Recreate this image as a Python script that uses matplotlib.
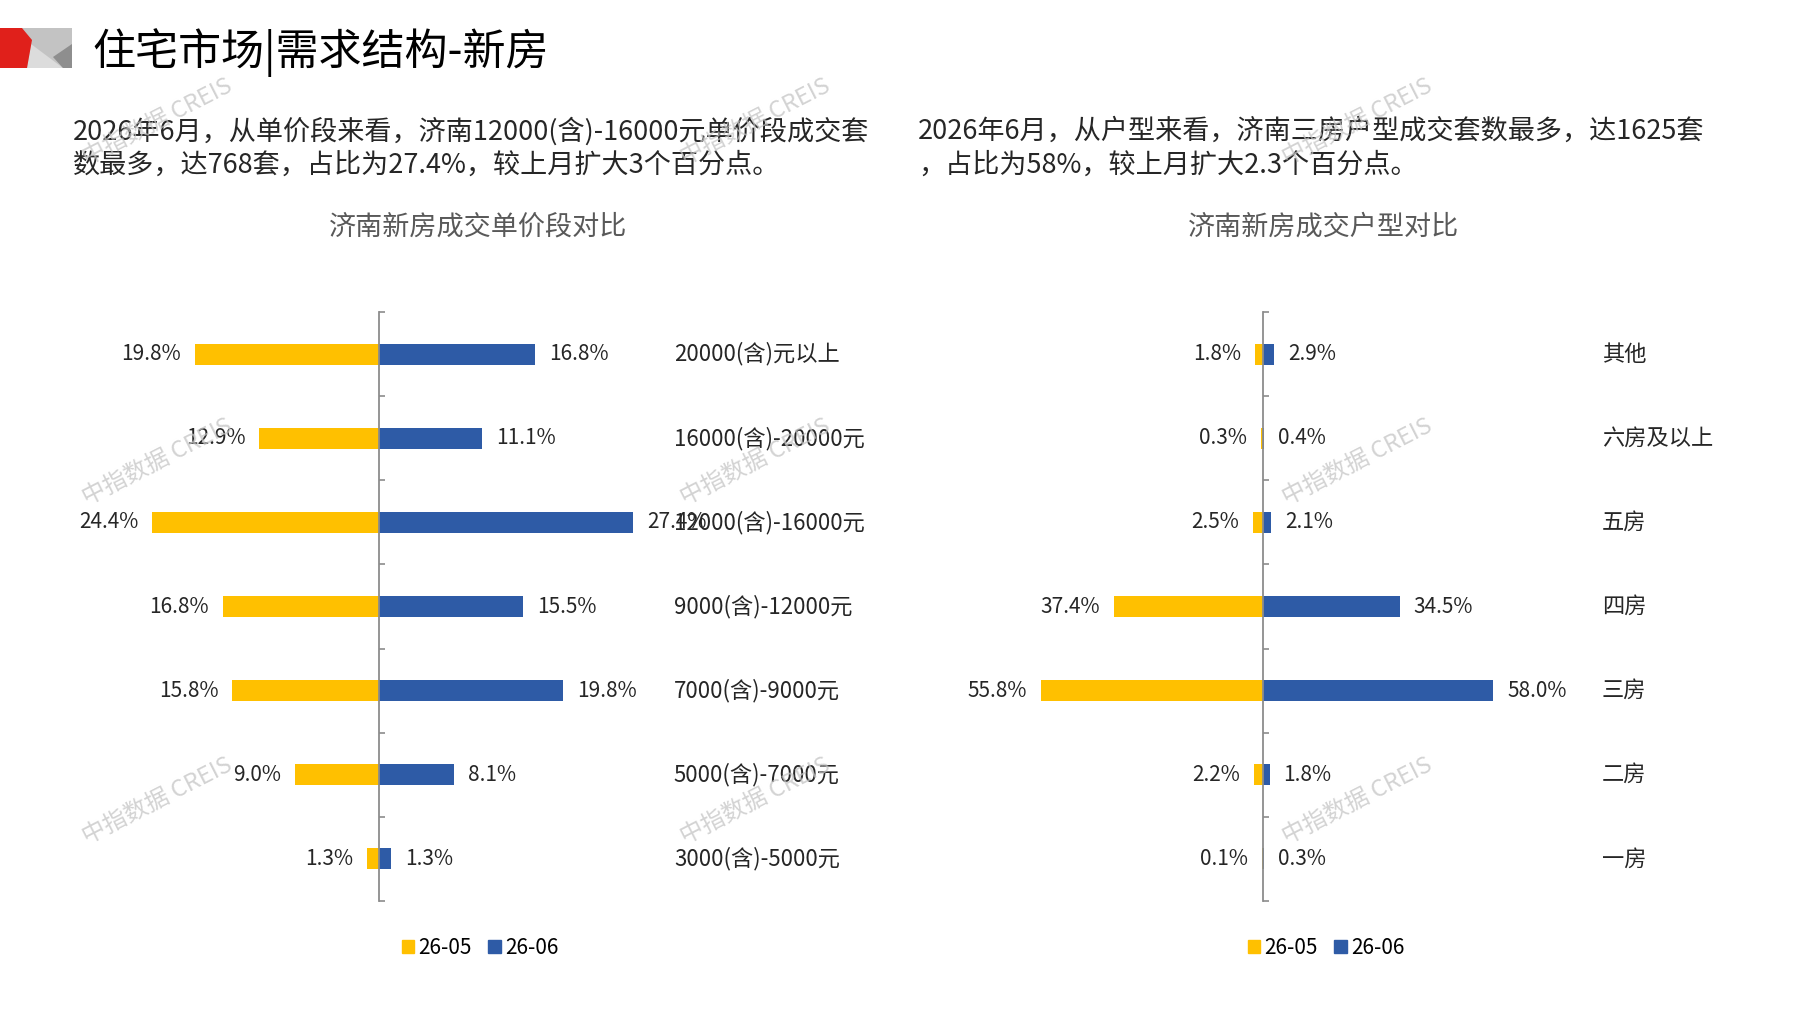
import matplotlib
matplotlib.use("Agg")
import matplotlib.pyplot as plt
from matplotlib.patches import Polygon, Patch

plt.rcParams['font.family'] = ['Noto Sans CJK SC', 'DejaVu Sans']

# ---- data ----
price_cats = ['20000(含)元以上', '16000(含)-20000元', '12000(含)-16000元', '9000(含)-12000元',
              '7000(含)-9000元', '5000(含)-7000元', '3000(含)-5000元']
price_may = [19.8, 12.9, 24.4, 16.8, 15.8, 9.0, 1.3]
price_jun = [16.8, 11.1, 27.4, 15.5, 19.8, 8.1, 1.3]

room_cats = ['其他', '六房及以上', '五房', '四房', '三房', '二房', '一房']
room_may = [1.8, 0.3, 2.5, 37.4, 55.8, 2.2, 0.1]
room_jun = [2.9, 0.4, 2.1, 34.5, 58.0, 1.8, 0.3]

series_names = ['26-05', '26-06']

title = '住宅市场|需求结构-新房'
para_left = ['2026年6月，从单价段来看，济南12000(含)-16000元单价段成交套',
             '数最多，达768套，占比为27.4%，较上月扩大3个百分点。']
para_right = ['2026年6月，从户型来看，济南三房户型成交套数最多，达1625套',
              '，占比为58%，较上月扩大2.3个百分点。']
chart_titles = ['济南新房成交单价段对比', '济南新房成交户型对比']

YELLOW = '#FFC000'
BLUE = '#2E5BA6'
TXT = '#262626'

W, H = 1797, 1010
fig = plt.figure(figsize=(W / 100, H / 100), dpi=100)


def fx(x):
    return x / W


def fy(y):
    return 1 - y / H


# header logo
logo = [
    ([(22, 28), (72, 28), (72, 68), (22, 68)], '#C3C3C3'),
    ([(31, 44), (63, 68), (27, 68)], '#DCDCDC'),
    ([(53, 57), (72, 44), (72, 68), (63, 68)], '#8E8E8E'),
    ([(0, 28), (22, 28), (32, 40), (27, 68), (0, 68)], '#E0201B'),
]
for pts, col in logo:
    fig.add_artist(Polygon([(fx(a), fy(b)) for a, b in pts], closed=True,
                           transform=fig.transFigure, color=col, lw=0))

fig.text(fx(92), fy(53), title, fontsize=31, color='black', va='center', ha='left')

for i, line in enumerate(para_left):
    fig.text(fx(73), fy(131 + i * 34), line, fontsize=19.5, color=TXT, va='center')
for i, line in enumerate(para_right):
    fig.text(fx(918), fy(131 + i * 34), line, fontsize=19.5, color=TXT, va='center')

TOP, BOTTOM = 312, 901


def pyramid(left, width, cats, may, jun, lim, cat_x, title_txt, center_x):
    ax = fig.add_axes([fx(left), fy(BOTTOM), fx(width), (BOTTOM - TOP) / H])
    y = list(range(len(cats)))
    ax.barh(y, [-v for v in may], height=0.25, color=YELLOW, zorder=2)
    ax.barh(y, jun, height=0.25, color=BLUE, zorder=2)
    ax.set_xlim(-lim, lim)
    ax.set_ylim(len(cats) - 0.5, -0.5)
    for s in ['top', 'right', 'bottom']:
        ax.spines[s].set_visible(False)
    ax.spines['left'].set_position(('data', 0))
    ax.spines['left'].set_color('#8C8C8C')
    ax.spines['left'].set_linewidth(1.3)
    ax.set_xticks([])
    ax.set_yticks([i - 0.5 for i in range(len(cats) + 1)])
    ax.tick_params(axis='y', direction='in', length=4, width=1.2, color='#8C8C8C',
                   labelleft=False)
    for yi, m, j, c in zip(y, may, jun, cats):
        ax.annotate(f'{m:.1f}%', (-m, yi), xytext=(-10, 0), textcoords='offset points',
                    ha='right', va='center', fontsize=15, color=TXT)
        ax.annotate(f'{j:.1f}%', (j, yi), xytext=(10, 0), textcoords='offset points',
                    ha='left', va='center', fontsize=15, color=TXT)
        ax.text(cat_x, yi, c, transform=ax.get_yaxis_transform(), ha='left', va='center',
                fontsize=16, color=TXT)
    fig.text(fx(center_x), fy(227), title_txt, fontsize=19.5, color='#595959',
             ha='center', va='center')
    handles = [Patch(color=YELLOW), Patch(color=BLUE)]
    fig.legend(handles, series_names, loc='center', ncol=2, frameon=False,
               bbox_to_anchor=(fx(center_x + 2), fy(948)), fontsize=15,
               handlelength=0.6, handleheight=0.6, handletextpad=0.2, columnspacing=0.8)
    return ax


ax_l = pyramid(119, 520, price_cats, price_may, price_jun, 28, 1.067,
               chart_titles[0], 478)
ax_r = pyramid(1000, 525, room_cats, room_may, room_jun, 66, 1.146,
               chart_titles[1], 1324)

# watermarks
for cx in (157, 755, 1357):
    for cy in (122, 462, 801):
        fig.text(fx(cx), fy(cy), '中指数据 CREIS', fontsize=17, color='#C4C4C4', alpha=0.75,
                 rotation=27, ha='center', va='center', rotation_mode='anchor', zorder=10)

fig.savefig('out.png', dpi=100)
